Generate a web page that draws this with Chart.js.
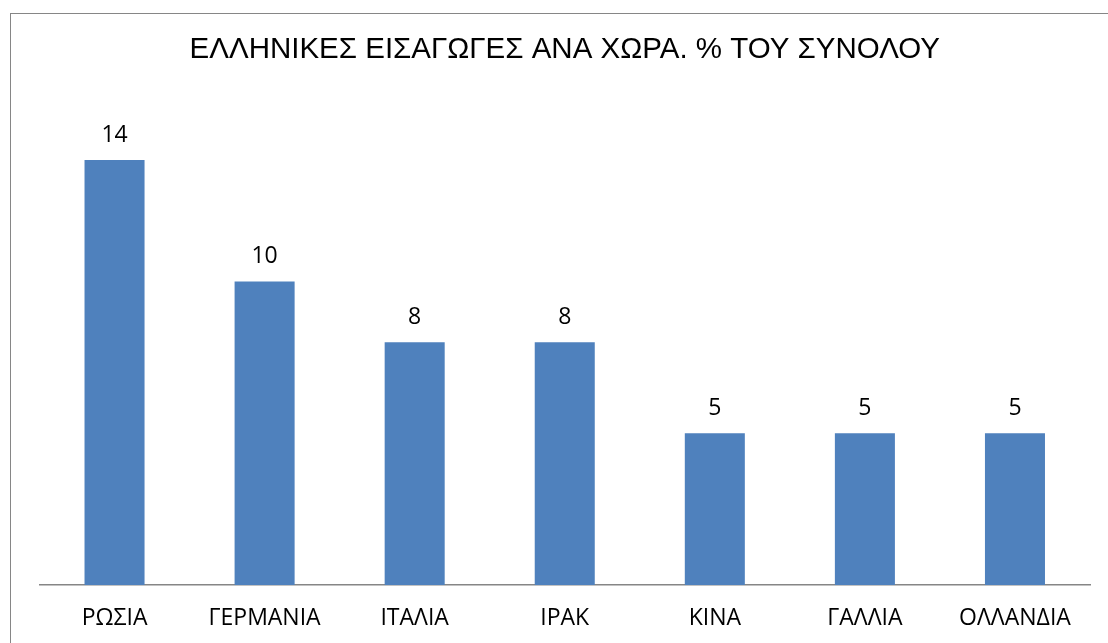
<!DOCTYPE html>
<html>
<head>
<meta charset="utf-8">
<script src="https://cdn.jsdelivr.net/npm/chart.js@4/dist/chart.umd.min.js"></script>
<style>
  body { margin: 0; background: #fff; }
  #wrap { position: relative; width: 1108px; height: 643px; overflow: hidden; }
  #frame { position: absolute; left: 10px; top: 13px; width: 1200px; height: 700px; border: 1px solid #868686; }
  canvas { position: absolute; left: 0; top: 0; }
</style>
</head>
<body>
<div id="wrap">
  <div id="frame"></div>
  <canvas id="importsChart" width="1108" height="643"></canvas>
</div>
<script>
const chartTitle = 'ΕΛΛΗΝΙΚΕΣ ΕΙΣΑΓΩΓΕΣ ΑΝΑ ΧΩΡΑ. % ΤΟΥ ΣΥΝΟΛΟΥ';
const countries = ['ΡΩΣΙΑ', 'ΓΕΡΜΑΝΙΑ', 'ΙΤΑΛΙΑ', 'ΙΡΑΚ', 'ΚΙΝΑ', 'ΓΑΛΛΙΑ', 'ΟΛΛΑΝΔΙΑ'];
const shares = [14, 10, 8, 8, 5, 5, 5];

// labels above each bar
const valueLabels = {
    id: 'valueLabels',
    afterDatasetsDraw(chart) {
        const ctx = chart.ctx;
        const meta = chart.getDatasetMeta(0);
        ctx.save();
        ctx.font = '23px "Open Sans"';
        ctx.fillStyle = '#000';
        ctx.textAlign = 'center';
        ctx.textBaseline = 'alphabetic';
        meta.data.forEach((bar, i) => {
            ctx.fillText(String(shares[i]), bar.x, bar.y - 18);
        });
        ctx.restore();
    }
};

const ctx = document.getElementById('importsChart').getContext('2d');
new Chart(ctx, {
    type: 'bar',
    data: {
        labels: countries,
        datasets: [{
            label: '% του συνόλου',
            data: shares,
            backgroundColor: '#4F81BD',
            borderWidth: 0,
            categoryPercentage: 1,
            barPercentage: 0.4
        }]
    },
    options: {
        responsive: false,
        animation: false,
        layout: {
            padding: { left: 39.5, right: 18, top: 0, bottom: -9.6 }
        },
        plugins: {
            legend: { display: false },
            tooltip: { enabled: false },
            title: {
                display: true,
                text: chartTitle,
                fullSize: false,
                color: '#000',
                font: { family: '"Liberation Sans", Arial', size: 29.5, weight: 'normal', lineHeight: 1.2 },
                padding: { top: 32, bottom: 31.9 }
            }
        },
        scales: {
            x: {
                grid: { display: false, drawTicks: false },
                border: { display: true, color: '#868686', width: 1.5 },
                ticks: {
                    color: '#000',
                    padding: 20,
                    maxRotation: 0,
                    font: { family: '"Open Sans"', size: 23, lineHeight: 1.2 }
                }
            },
            y: {
                display: false,
                min: 0,
                max: 16
            }
        }
    },
    plugins: [valueLabels]
});
</script>
</body>
</html>
